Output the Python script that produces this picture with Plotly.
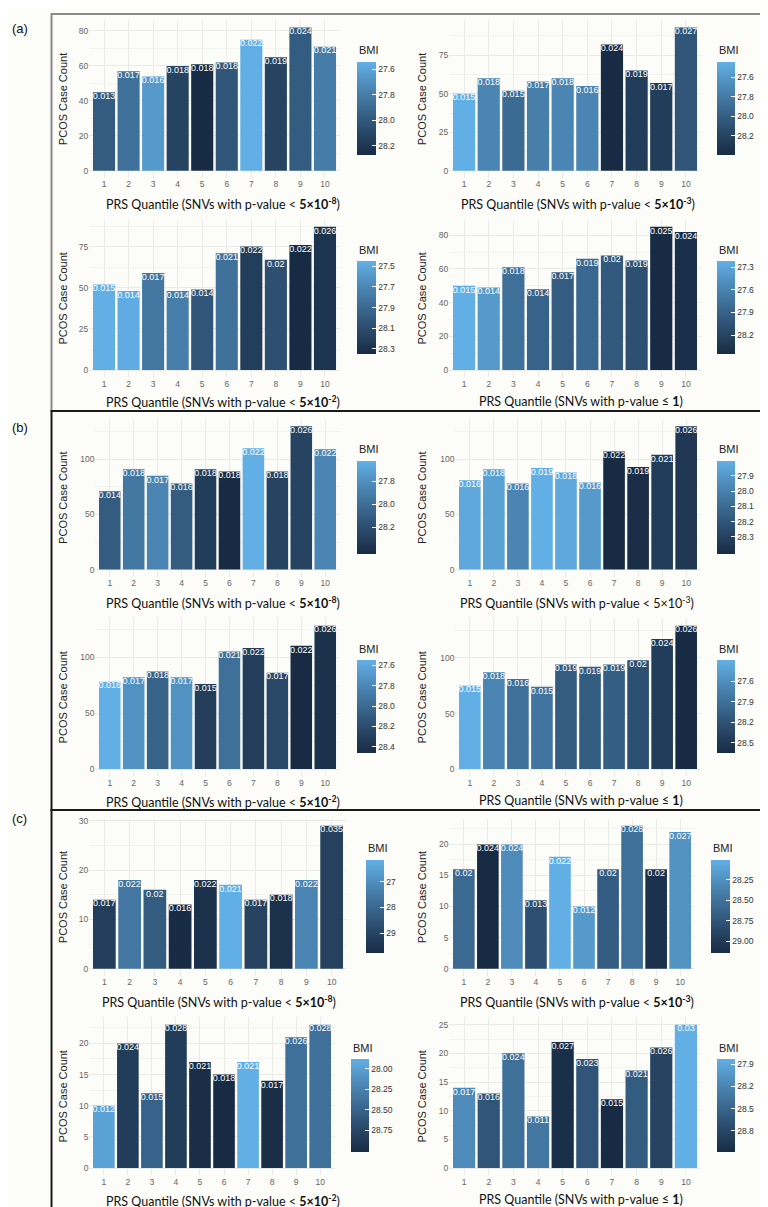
import plotly.graph_objects as go
import numpy as np

W, H = 768, 1207

quantiles = list(range(1, 11))

# ---------------- data ----------------
# Panel (a)
a1_counts = [45, 57, 54, 60, 61, 62, 75, 65, 82, 71]
a1_prev = ["0.013", "0.017", "0.016", "0.018", "0.018", "0.018", "0.022", "0.019", "0.024", "0.021"]
a1_bmi = [27.98, 27.87, 27.65, 28.12, 28.27, 28.01, 27.54, 28.12, 27.98, 27.80]
a1_ticks = ["27.6", "27.8", "28.0", "28.2"]

a2_counts = [50, 60, 52, 58, 60, 55, 82, 65, 57, 93]
a2_prev = ["0.015", "0.018", "0.015", "0.017", "0.018", "0.016", "0.024", "0.019", "0.017", "0.027"]
a2_bmi = [27.44, 27.72, 27.91, 27.77, 27.72, 27.72, 28.39, 28.25, 28.25, 28.06]
a2_ticks = ["27.6", "27.8", "28.0", "28.2"]

a3_counts = [52, 48, 59, 48, 49, 71, 75, 67, 76, 87]
a3_prev = ["0.015", "0.014", "0.017", "0.014", "0.014", "0.021", "0.022", "0.02", "0.022", "0.026"]
a3_bmi = [27.45, 27.47, 27.81, 27.76, 28.03, 27.85, 28.21, 28.08, 28.35, 28.28]
a3_ticks = ["27.5", "27.7", "27.9", "28.1", "28.3"]

a4_counts = [50, 49, 61, 48, 58, 66, 68, 65, 85, 82]
a4_prev = ["0.015", "0.014", "0.018", "0.014", "0.017", "0.019", "0.02", "0.019", "0.025", "0.024"]
a4_bmi = [27.22, 27.40, 27.77, 27.90, 27.96, 27.84, 27.98, 28.08, 28.45, 28.41]
a4_ticks = ["27.3", "27.6", "27.9", "28.2"]

# Panel (b)
b1_counts = [71, 91, 85, 78, 91, 89, 110, 89, 130, 109]
b1_prev = ["0.014", "0.018", "0.017", "0.016", "0.018", "0.018", "0.022", "0.018", "0.026", "0.022"]
b1_bmi = [28.11, 27.94, 27.86, 28.11, 28.31, 28.43, 27.62, 28.27, 28.27, 27.86]
b1_ticks = ["27.8", "28.0", "28.2"]

b2_counts = [81, 91, 78, 92, 88, 79, 107, 93, 104, 130]
b2_prev = ["0.016", "0.018", "0.016", "0.019", "0.018", "0.016", "0.022", "0.019", "0.021", "0.026"]
b2_bmi = [27.83, 27.86, 27.98, 27.80, 27.83, 27.89, 28.41, 28.40, 28.32, 28.35]
b2_ticks = ["27.9", "28.0", "28.1", "28.2", "28.3"]

b3_counts = [78, 82, 87, 82, 76, 105, 108, 86, 110, 128]
b3_prev = ["0.016", "0.017", "0.018", "0.017", "0.015", "0.021", "0.022", "0.017", "0.022", "0.026"]
b3_bmi = [27.55, 27.73, 28.05, 27.73, 28.32, 27.96, 28.32, 28.23, 28.46, 28.41]
b3_ticks = ["27.6", "27.8", "28.0", "28.2", "28.4"]

b4_counts = [75, 87, 81, 74, 94, 92, 94, 98, 117, 129]
b4_prev = ["0.015", "0.018", "0.016", "0.015", "0.019", "0.019", "0.019", "0.02", "0.024", "0.026"]
b4_bmi = [27.29, 27.70, 27.90, 27.86, 28.11, 28.11, 28.08, 28.24, 28.45, 28.65]
b4_ticks = ["27.6", "27.9", "28.2", "28.5"]

# Panel (c)
c1_counts = [14, 18, 16, 13, 18, 17, 14, 15, 18, 29]
c1_prev = ["0.017", "0.022", "0.02", "0.016", "0.022", "0.021", "0.017", "0.018", "0.022", "0.035"]
c1_bmi = [29.20, 27.59, 28.30, 29.74, 29.56, 26.15, 29.02, 29.56, 27.23, 29.09]
c1_ticks = ["27", "28", "29"]

c2_counts = [16, 20, 20, 11, 18, 10, 16, 23, 16, 22]
c2_prev = ["0.02", "0.024", "0.024", "0.013", "0.022", "0.012", "0.02", "0.028", "0.02", "0.027"]
c2_bmi = [28.57, 29.14, 28.29, 28.80, 28.00, 28.17, 28.68, 28.51, 29.08, 28.23]
c2_ticks = ["28.25", "28.50", "28.75", "29.00"]

c3_counts = [10, 20, 12, 23, 17, 15, 17, 14, 21, 23]
c3_prev = ["0.012", "0.024", "0.015", "0.028", "0.021", "0.018", "0.021", "0.017", "0.026", "0.028"]
c3_bmi = [27.99, 28.85, 28.51, 28.85, 28.99, 29.02, 27.88, 28.99, 28.39, 28.39]
c3_ticks = ["28.00", "28.25", "28.50", "28.75"]

c4_counts = [14, 13, 20, 9, 22, 19, 12, 17, 21, 25]
c4_prev = ["0.017", "0.016", "0.024", "0.011", "0.027", "0.023", "0.015", "0.021", "0.026", "0.03"]
c4_bmi = [28.15, 28.65, 28.40, 28.33, 29.05, 28.65, 29.09, 28.59, 28.84, 27.83]
c4_ticks = ["27.9", "28.2", "28.5", "28.8"]

y_dticks = [20, 25, 25, 20, 50, 50, 50, 50, 10, 5, 5, 5]

sup = lambda e: "<b>5×10<sup>%s</sup></b>" % e
x_titles = [
    "PRS Quantile (SNVs with p-value &lt; " + sup("-8") + ")",
    "PRS Quantile (SNVs with p-value &lt; " + sup("-3") + ")",
    "PRS Quantile (SNVs with p-value &lt; " + sup("-2") + ")",
    "PRS Quantile (SNVs with p-value ≤ <b>1</b>)",
    "PRS Quantile (SNVs with p-value &lt; " + sup("-8") + ")",
    "PRS Quantile (SNVs with p-value &lt; 5×10<sup>-3</sup>)",
    "PRS Quantile (SNVs with p-value &lt; " + sup("-2") + ")",
    "PRS Quantile (SNVs with p-value ≤ <b>1</b>)",
    "PRS Quantile (SNVs with p-value &lt; " + sup("-8") + ")",
    "PRS Quantile (SNVs with p-value &lt; " + sup("-3") + ")",
    "PRS Quantile (SNVs with p-value &lt; " + sup("-2") + ")",
    "PRS Quantile (SNVs with p-value ≤ <b>1</b>)",
]

panels = [
    (a1_counts, a1_prev, a1_bmi, a1_ticks), (a2_counts, a2_prev, a2_bmi, a2_ticks),
    (a3_counts, a3_prev, a3_bmi, a3_ticks), (a4_counts, a4_prev, a4_bmi, a4_ticks),
    (b1_counts, b1_prev, b1_bmi, b1_ticks), (b2_counts, b2_prev, b2_bmi, b2_ticks),
    (b3_counts, b3_prev, b3_bmi, b3_ticks), (b4_counts, b4_prev, b4_bmi, b4_ticks),
    (c1_counts, c1_prev, c1_bmi, c1_ticks), (c2_counts, c2_prev, c2_bmi, c2_ticks),
    (c3_counts, c3_prev, c3_bmi, c3_ticks), (c4_counts, c4_prev, c4_bmi, c4_ticks),
]

# ---------------- geometry (pixels) ----------------
rows_px = [(9.3, 167.4), (209.2, 367.2), (409.0, 567.2), (609.0, 767.2), (809.6, 967.2), (1009.0, 1167.2)]
cols_px = [
    (81.3, 331.7), (441.3, 692.7), (81.3, 331.7), (441.3, 692.7),
    (87.4, 331.6), (447.4, 692.6), (87.4, 331.6), (447.4, 692.6),
    (81.2, 338.8), (441.4, 686.6), (81.4, 326.6), (441.3, 692.7),
]
cbar_px = [  # x0, x1, ytop, ybot
    (349, 368, 50.7, 143.3), (709, 727.3, 50.7, 143.3),
    (349, 368, 250.7, 343.3), (709, 727.3, 250.7, 343.3),
    (349, 368, 450.7, 543.3), (709, 727.3, 450.7, 543.3),
    (349, 368, 650.7, 743.3), (709, 727.3, 650.7, 743.3),
    (357.7, 376, 850.7, 943.3), (703.3, 722.3, 850.7, 943.3),
    (343.3, 361.7, 1050.7, 1143.3), (709, 727.3, 1050.7, 1143.3),
]
xtitle_px = [(215, 193), (570, 193), (215, 391.7), (573, 391.7),
             (215, 593.3), (569, 593), (215, 792.7), (573, 791.7),
             (211.3, 992.7), (569, 993), (215, 1192.7), (573, 1191.7)]
ytitle_x = [55, 414]

# ---------------- colour scale (CIELAB interpolation like ggplot) ----------------
def hex2rgb(h):
    h = h.lstrip("#")
    return np.array([int(h[i:i + 2], 16) for i in (0, 2, 4)], float) / 255.0

M = np.array([[0.4124, 0.3576, 0.1805], [0.2126, 0.7152, 0.0722], [0.0193, 0.1192, 0.9505]])
Minv = np.linalg.inv(M)
WHITE = np.array([0.95047, 1.0, 1.08883])

def rgb2lab(c):
    lin = np.where(c <= 0.04045, c / 12.92, ((c + 0.055) / 1.055) ** 2.4)
    xyz = M @ lin / WHITE
    f = np.where(xyz > (6 / 29) ** 3, np.cbrt(xyz), xyz / (3 * (6 / 29) ** 2) + 4 / 29)
    return np.array([116 * f[1] - 16, 500 * (f[0] - f[1]), 200 * (f[1] - f[2])])

def lab2rgb(lab):
    fy = (lab[0] + 16) / 116
    fx = fy + lab[1] / 500
    fz = fy - lab[2] / 200
    f = np.array([fx, fy, fz])
    xyz = np.where(f > 6 / 29, f ** 3, 3 * (6 / 29) ** 2 * (f - 4 / 29)) * WHITE
    lin = np.clip(Minv @ xyz, 0, 1)
    c = np.where(lin <= 0.0031308, 12.92 * lin, 1.055 * lin ** (1 / 2.4) - 0.055)
    return "rgb(%d,%d,%d)" % tuple(np.round(np.clip(c, 0, 1) * 255))

dark, light = rgb2lab(hex2rgb("#182B44")), rgb2lab(hex2rgb("#62AFE6"))
colorscale = [[t, lab2rgb(dark + (light - dark) * t)] for t in np.linspace(0, 1, 11)]

BG = "#fcfcf8"
GRID = "#eaeae7"
MINOR = "#f3f3ef"

fig = go.Figure()
layout = dict(width=W, height=H, margin=dict(l=0, r=0, t=0, b=0),
              paper_bgcolor=BG, plot_bgcolor=BG, showlegend=False,
              font=dict(family="Liberation Sans, Arial, sans-serif"))
annotations = []

for i, (counts, prev, bmi, ticks) in enumerate(panels):
    n = i + 1
    xa = "x" if n == 1 else "x%d" % n
    ya = "y" if n == 1 else "y%d" % n
    row = (i // 4) * 2 + (i % 4) // 2
    ytop, ybot = rows_px[row]
    x0, x1 = cols_px[i]
    cx0, cx1, cyt, cyb = cbar_px[i]
    tickvals = [-float(t) for t in ticks]
    fig.add_trace(go.Bar(
        x=quantiles, y=counts, xaxis=xa, yaxis=ya, width=0.9,
        marker=dict(color=[-b for b in bmi], colorscale=colorscale, line=dict(width=0),
                    showscale=True,
                    colorbar=dict(x=cx0 / W, xanchor="left", y=1 - cyt / H, yanchor="top",
                                  len=cyb - cyt, lenmode="pixels",
                                  thickness=cx1 - cx0, thicknessmode="pixels",
                                  xpad=0, ypad=0, outlinewidth=0,
                                  tickvals=tickvals, ticktext=ticks,
                                  ticks="inside", ticklen=4, tickcolor="white", tickwidth=1,
                                  tickfont=dict(size=8.5, color="#333333"))),
        hoverinfo="skip"))
    fig.add_trace(go.Scatter(
        x=quantiles, y=counts, xaxis=xa, yaxis=ya, mode="text", text=prev,
        textposition="bottom center", textfont=dict(size=9, color="white"),
        cliponaxis=False, hoverinfo="skip"))
    ymax = max(counts)
    dt = y_dticks[i]
    layout["xaxis" if n == 1 else "xaxis%d" % n] = dict(
        domain=[x0 / W, x1 / W], anchor=ya, range=[0.4, 10.6],
        tickvals=quantiles, ticktext=[str(q) for q in quantiles],
        showgrid=True, gridcolor=GRID, gridwidth=1, zeroline=False, showline=False,
        ticks="", tickfont=dict(size=8.5, color="#666666"))
    layout["yaxis" if n == 1 else "yaxis%d" % n] = dict(
        domain=[1 - ybot / H, 1 - ytop / H], anchor=xa,
        range=[-0.05 * ymax, 1.05 * ymax], tick0=0, dtick=dt,
        showgrid=True, gridcolor=GRID, gridwidth=1, zeroline=False, showline=False,
        ticks="", tickfont=dict(size=8.5, color="#666666"),
        minor=dict(dtick=dt / 2, tick0=0, showgrid=True, gridcolor=MINOR, gridwidth=0.6))
    tx, ty = xtitle_px[i]
    annotations.append(dict(text=x_titles[i], x=tx / W, y=1 - ty / H, xref="paper", yref="paper",
                            xanchor="center", yanchor="middle", showarrow=False,
                            font=dict(family="Lato, sans-serif", size=12.5, color="#111111")))
    annotations.append(dict(text="PCOS Case Count", x=ytitle_x[i % 2] / W,
                            y=1 - (ytop + ybot) / 2 / H, xref="paper", yref="paper",
                            xanchor="center", yanchor="middle", showarrow=False, textangle=-90,
                            font=dict(size=11, color="#222222")))
    annotations.append(dict(text="BMI", x=cx0 / W, y=1 - (cyt - 11.5) / H, xref="paper", yref="paper",
                            xanchor="left", yanchor="middle", showarrow=False,
                            font=dict(size=11, color="#222222")))

for lab, py in [("(a)", 18), ("(b)", 418), ("(c)", 810)]:
    annotations.append(dict(text=lab, x=2 / W, y=1 - py / H, xref="paper", yref="paper",
                            xanchor="left", yanchor="middle", showarrow=False,
                            font=dict(size=13, color="#111111")))

shapes = []
for (bx0, bx1, by0, by1, col) in [(43.5, 765, 3, 401, "#8a8a8a"),
                                  (43.5, 764, 401, 801, "#1a1a1a"),
                                  (43.5, 765, 801, 1203, "#1a1a1a")]:
    shapes.append(dict(type="rect", xref="paper", yref="paper",
                       x0=bx0 / W, x1=bx1 / W, y0=1 - by1 / H, y1=1 - by0 / H,
                       line=dict(color=col, width=2), fillcolor="rgba(0,0,0,0)"))

layout["annotations"] = annotations
layout["shapes"] = shapes
fig.update_layout(**layout)
fig.write_html("out.html")
